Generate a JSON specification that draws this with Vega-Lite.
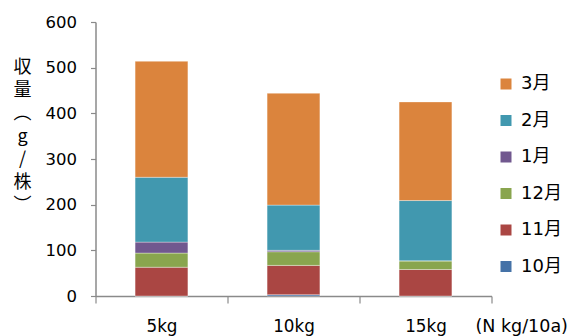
{
  "$schema": "https://vega.github.io/schema/vega-lite/v6.json",
  "width": 396,
  "height": 274,
  "autosize": {"type": "none"},
  "padding": {"left": 95.5, "top": 22, "right": 83.5, "bottom": 40},
  "background": "#ffffff",
  "config": {
    "view": {"stroke": null},
    "font": "DejaVu Sans, Noto Sans CJK JP",
    "axis": {"labelFont": "DejaVu Sans, Noto Sans CJK JP", "titleFont": "DejaVu Sans, Noto Sans CJK JP"},
    "legend": {"labelFont": "DejaVu Sans, Noto Sans CJK JP"}
  },
  "data": {
    "values": [
      {"rate": "5kg", "month": "10月", "yield": 0},
      {"rate": "5kg", "month": "11月", "yield": 63},
      {"rate": "5kg", "month": "12月", "yield": 31},
      {"rate": "5kg", "month": "1月", "yield": 24},
      {"rate": "5kg", "month": "2月", "yield": 142},
      {"rate": "5kg", "month": "3月", "yield": 254},
      {"rate": "10kg", "month": "10月", "yield": 3},
      {"rate": "10kg", "month": "11月", "yield": 64},
      {"rate": "10kg", "month": "12月", "yield": 30},
      {"rate": "10kg", "month": "1月", "yield": 3},
      {"rate": "10kg", "month": "2月", "yield": 99},
      {"rate": "10kg", "month": "3月", "yield": 245},
      {"rate": "15kg", "month": "10月", "yield": 0},
      {"rate": "15kg", "month": "11月", "yield": 58},
      {"rate": "15kg", "month": "12月", "yield": 19},
      {"rate": "15kg", "month": "1月", "yield": 0},
      {"rate": "15kg", "month": "2月", "yield": 132},
      {"rate": "15kg", "month": "3月", "yield": 216}
    ]
  },
  "mark": {
    "type": "bar",
    "width": {"band": 0.4},
    "stroke": "#ffffff",
    "strokeWidth": 0.7,
    "strokeOpacity": 0.5
  },
  "encoding": {
    "x": {
      "field": "rate",
      "type": "nominal",
      "sort": ["5kg", "10kg", "15kg"],
      "scale": {"paddingInner": 0, "paddingOuter": 0},
      "axis": {
        "title": "(N kg/10a)",
        "titleFontSize": 17.5,
        "titleFontWeight": "normal",
        "titleColor": "#000000",
        "titleAnchor": "start",
        "titleAlign": "left",
        "titleBaseline": "top",
        "titleX": 379.5,
        "titleY": 21,
        "labelAngle": 0,
        "labelFontSize": 16.8,
        "labelColor": "#000000",
        "labelBaseline": "top",
        "labelPadding": 15,
        "tickBand": "extent",
        "tickSize": 7,
        "tickColor": "#8a8a8a",
        "domainColor": "#8a8a8a",
        "domainWidth": 1.5,
        "tickWidth": 1.2
      }
    },
    "y": {
      "field": "yield",
      "type": "quantitative",
      "aggregate": "sum",
      "scale": {"domain": [0, 600], "nice": false},
      "axis": {
        "title": ["収", "量", "︵", "g", "/", "株", "︶"],
        "titleFont": "Noto Sans CJK JP",
        "titleAngle": 0,
        "titleFontSize": 18,
        "titleFontWeight": "normal",
        "titleColor": "#000000",
        "titleLineHeight": 23,
        "titleAlign": "center",
        "titleBaseline": "top",
        "titleX": -73.5,
        "titleY": 36,
        "values": [0, 100, 200, 300, 400, 500, 600],
        "grid": false,
        "labelFontSize": 16.5,
        "labelColor": "#000000",
        "labelPadding": 14,
        "tickSize": 5,
        "tickColor": "#8a8a8a",
        "domainColor": "#8a8a8a",
        "domainWidth": 1.5,
        "tickWidth": 1.2
      }
    },
    "color": {
      "field": "month",
      "type": "nominal",
      "sort": "descending",
      "scale": {
        "domain": ["3月", "2月", "1月", "12月", "11月", "10月"],
        "range": ["#DB843D", "#4198AF", "#71588F", "#89A54E", "#AA4643", "#4572A7"]
      },
      "legend": {
        "title": null,
        "orient": "none",
        "legendX": 401.5,
        "legendY": 53,
        "symbolType": "square",
        "symbolSize": 121,
        "symbolStrokeWidth": 0,
        "labelFontSize": 18,
        "labelColor": "#000000",
        "labelOffset": 6,
        "rowPadding": 18.5
      }
    },
    "order": {"field": "month", "sort": "ascending"}
  }
}
